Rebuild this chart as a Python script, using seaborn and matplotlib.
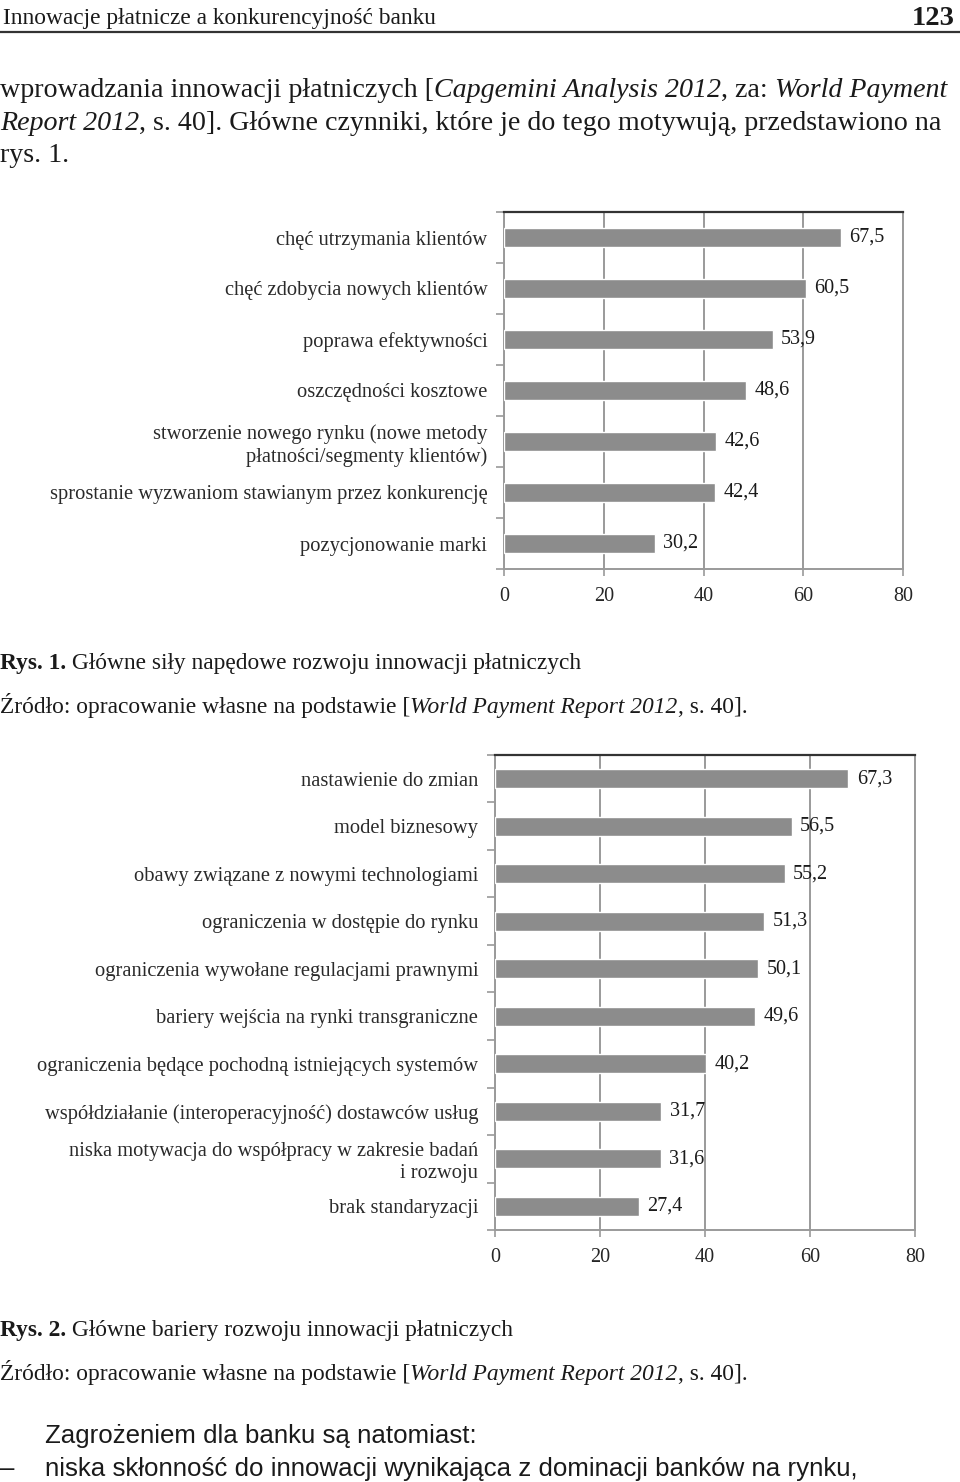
import matplotlib
matplotlib.use("Agg")
import matplotlib.pyplot as plt
import seaborn as sns
import pandas as pd
from matplotlib.lines import Line2D
from matplotlib.ticker import FixedLocator

# data read from the scanned page
drivers = ["chęć utrzymania klientów",
           "chęć zdobycia nowych klientów",
           "poprawa efektywności",
           "oszczędności kosztowe",
           "stworzenie nowego rynku (nowe metody\npłatności/segmenty klientów)",
           "sprostanie wyzwaniom stawianym przez konkurencję",
           "pozycjonowanie marki"]
driver_vals = [67.5, 60.5, 53.9, 48.6, 42.6, 42.4, 30.2]

barriers = ["nastawienie do zmian",
            "model biznesowy",
            "obawy związane z nowymi technologiami",
            "ograniczenia w dostępie do rynku",
            "ograniczenia wywołane regulacjami prawnymi",
            "bariery wejścia na rynki transgraniczne",
            "ograniczenia będące pochodną istniejących systemów",
            "współdziałanie (interoperacyjność) dostawców usług",
            "niska motywacja do współpracy w zakresie badań\ni rozwoju",
            "brak standaryzacji"]
barrier_vals = [67.3, 56.5, 55.2, 51.3, 50.1, 49.6, 40.2, 31.7, 31.6, 27.4]

x_ticks = [0, 20, 40, 60, 80]

W, H = 960, 1482
sns.set_theme(style="white")
plt.rcParams['font.family'] = ['Liberation Serif', 'DejaVu Serif']
plt.rcParams['text.color'] = '#1a1a1a'

fig = plt.figure(figsize=(W / 100, H / 100), dpi=100)
fig.patch.set_facecolor('white')

BAR = '#8c8c8c'
GRID = '#9a9a9a'


def bar_chart(rect, labels, vals):
    ax = fig.add_axes(rect)
    df = pd.DataFrame({'label': labels, 'value': vals})
    sns.barplot(data=df, x='value', y='label', orient='h', color=BAR,
                saturation=1, width=0.39, ax=ax, zorder=3)
    n = len(labels)
    ax.set_xlim(0, 80)
    ax.set_ylim(n - 0.5, -0.5)
    ax.set_xlabel('')
    ax.set_ylabel('')
    ax.set_xticks(x_ticks)
    ax.set_xticklabels([str(t) for t in x_ticks], fontsize=14.5)
    ax.tick_params(axis='x', length=5, width=1.2, color=GRID, pad=8,
                   bottom=True, direction='out')
    ax.tick_params(axis='y', length=0, pad=12, labelsize=14.8,
                   labelcolor='#2a2a2a')
    ax.yaxis.set_minor_locator(FixedLocator([i - 0.5 for i in range(n + 1)]))
    ax.tick_params(axis='y', which='minor', length=6, width=1.2, color=GRID,
                   left=True, direction='out')
    ax.grid(axis='x', color=GRID, linewidth=1.4, zorder=0)
    ax.set_axisbelow(True)
    for side in ['left', 'bottom', 'right']:
        ax.spines[side].set_color(GRID)
        ax.spines[side].set_linewidth(1.4)
    ax.spines['top'].set_color('#333333')
    ax.spines['top'].set_linewidth(1.6)
    for c in ax.containers:
        ax.bar_label(c, labels=[f"{v:.1f}".replace('.', ',') for v in vals],
                     padding=6, fontsize=14.5, color='#1a1a1a')
    return ax


bar_chart([504 / W, 1 - 569 / H, 399 / W, 357 / H], drivers, driver_vals)
bar_chart([495 / W, 1 - 1230 / H, 420 / W, 475 / H], barriers, barrier_vals)

# page text around the charts
renderer = fig.canvas.get_renderer()


def runs(x_px, y_px, parts, size, family=None):
    x = x_px
    for txt, style in parts:
        kw = dict(fontsize=size, va='baseline', ha='left')
        if family:
            kw['family'] = family
        if style == 'i':
            kw['style'] = 'italic'
        if style == 'b':
            kw['weight'] = 'bold'
        t = fig.text(x / W, 1 - y_px / H, txt, **kw)
        x += t.get_window_extent(renderer).width
    return x


runs(3, 24, [("Innowacje płatnicze a konkurencyjność banku", 'n')], 16.8)
fig.text(955 / W, 1 - 25 / H, "123", fontsize=20.5, weight='bold',
         ha='right', va='baseline')
fig.add_artist(Line2D([0, 1], [1 - 32 / H, 1 - 32 / H], color='#333333',
                      linewidth=1.6))

runs(0, 97, [("wprowadzania innowacji płatniczych [", 'n'),
             ("Capgemini Analysis 2012", 'i'), (", za: ", 'n'),
             ("World Payment", 'i')], 20.2)
runs(0, 130, [("Report 2012", 'i'),
              (", s. 40]. Główne czynniki, które je do tego motywują, przedstawiono na", 'n')],
     20.2)
runs(0, 162, [("rys. 1.", 'n')], 20.2)

runs(0, 669, [("Rys. 1.", 'b'),
              (" Główne siły napędowe rozwoju innowacji płatniczych", 'n')], 16.8)
runs(0, 713, [("Źródło: opracowanie własne na podstawie [", 'n'),
              ("World Payment Report 2012", 'i'), (", s. 40].", 'n')], 16.9)

runs(0, 1336, [("Rys. 2.", 'b'),
               (" Główne bariery rozwoju innowacji płatniczych", 'n')], 16.8)
runs(0, 1380, [("Źródło: opracowanie własne na podstawie [", 'n'),
               ("World Payment Report 2012", 'i'), (", s. 40].", 'n')], 16.9)

sans = ['Liberation Sans', 'DejaVu Sans']
runs(45, 1443, [("Zagrożeniem dla banku są natomiast:", 'n')], 18.6, family=sans)
runs(0, 1476, [("–", 'n')], 18.6, family=sans)
runs(45, 1476, [("niska skłonność do innowacji wynikająca z dominacji banków na rynku,", 'n')],
     18.6, family=sans)

fig.savefig("out.png", dpi=100)
